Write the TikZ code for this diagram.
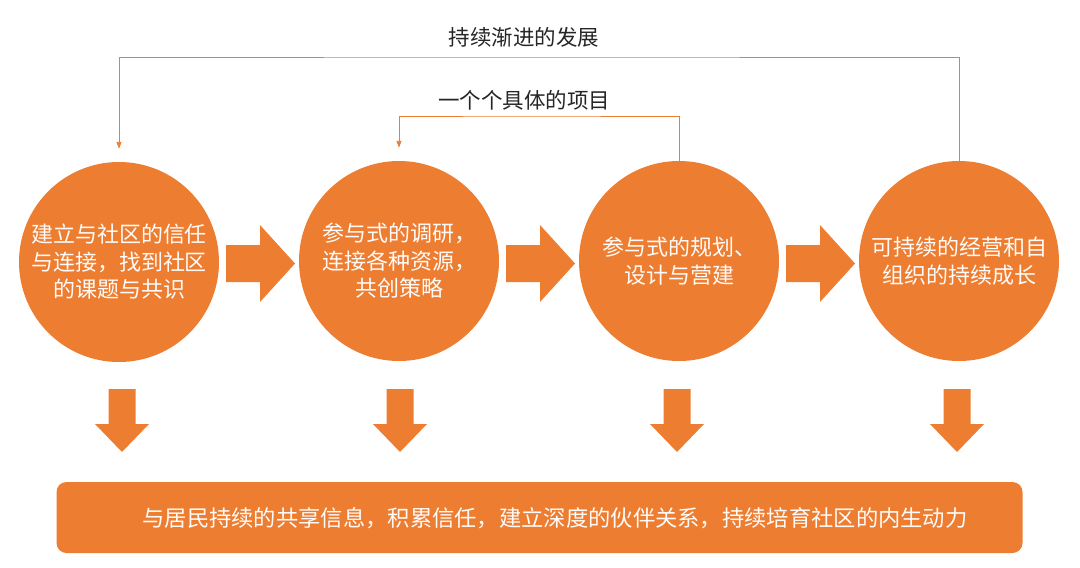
\documentclass[tikz,border=0pt]{standalone}
\usepackage{fontspec}
\newfontfamily\cjk{Noto Sans CJK SC}
\usetikzlibrary{arrows.meta}
\definecolor{ora}{RGB}{237,125,49}
\begin{document}
\begin{tikzpicture}[x=1pt, y=-1pt, font=\cjk\fontsize{21.5}{27.5}\selectfont,
  stage/.style={circle, fill=ora, minimum size=200pt, inner sep=0pt, align=center, text=white!97!ora, font=\cjk\fontsize{22}{27.5}\selectfont},
  backline/.style={draw=ora, line width=0.9pt, -{Triangle[length=7pt,width=5pt]}},
  note/.style={text=black!85}]
  \useasboundingbox (0,0) rectangle (1080,568);
  \node[stage] (c1) at (119,262) {建立与社区的信任\\与连接，找到社区\\的课题与共识};
  \node[stage] (c2) at (399,261) {参与式的调研，\\连接各种资源，\\共创策略};
  \node[stage] (c3) at (679,261) {参与式的规划、\\设计与营建};
  \node[stage] (c4) at (959,261) {可持续的经营和自\\组织的持续成长};
  \foreach \x in {226,506,786} \fill[ora] (\x,245) -- ++(34,0) -- ++(0,-20) -- (\x+69,263.5) -- (\x+34,302) -- ++(0,-20) -- (\x,282) -- cycle;
  \foreach \x in {122,400,677,957} \fill[ora] (\x-13.5,389) -- (\x+13.5,389) -- (\x+13.5,424) -- (\x+27,424) -- (\x,452) -- (\x-27,424) -- (\x-13.5,424) -- cycle;
  \node[fill=ora, rounded corners=10pt, minimum width=966pt, minimum height=71pt] (goal) at (539.5,517.5) {};
  \node[text=white!97!ora, font=\cjk\fontsize{22.3}{27}\selectfont] (goaltext) at (555,518) {与居民持续的共享信息，积累信任，建立深度的伙伴关系，持续培育社区的内生动力};
  \node[note] (outer) at (524,37) {持续渐进的发展};
  \node[note] (inner) at (524,100) {一个个具体的项目};
  \draw[backline] (c4.north) |- (524,57) -| ([yshift=13pt]c1.north);
  \draw[backline] (c3.north) |- (524,116) -| ([yshift=13pt]c2.north);
\end{tikzpicture}
\end{document}
